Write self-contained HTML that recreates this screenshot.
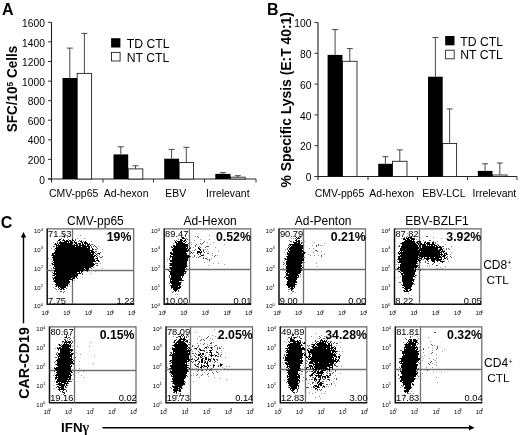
<!DOCTYPE html>
<html><head><meta charset="utf-8"><title>Figure</title>
<style>html,body{margin:0;padding:0;background:#fff}svg{display:block;filter:blur(0.45px)}text{font-family:"Liberation Sans",Arial,sans-serif;fill:#000}</style>
</head><body>
<svg width="520" height="435" viewBox="0 0 520 435">
<rect width="520" height="435" fill="#fff"/>
<path d="M51.5 22.3V182.5M48.0 179H256" stroke="#222" stroke-width="1.1" fill="none"/>
<path d="M48.0 179.0H51.5M48.0 159.4H51.5M48.0 139.8H51.5M48.0 120.2H51.5M48.0 100.7H51.5M48.0 81.1H51.5M48.0 61.5H51.5M48.0 41.9H51.5M48.0 22.3H51.5M103 179V182.5M153.5 179V182.5M204.5 179V182.5M256 179V182.5" stroke="#333" stroke-width="1" fill="none"/>
<text x="44.9" y="183.6" font-size="11.7" text-anchor="end" textLength="5.7" lengthAdjust="spacingAndGlyphs">0</text>
<text x="44.9" y="164.0" font-size="11.7" text-anchor="end" textLength="17.1" lengthAdjust="spacingAndGlyphs">200</text>
<text x="44.9" y="144.4" font-size="11.7" text-anchor="end" textLength="17.1" lengthAdjust="spacingAndGlyphs">400</text>
<text x="44.9" y="124.8" font-size="11.7" text-anchor="end" textLength="17.1" lengthAdjust="spacingAndGlyphs">600</text>
<text x="44.9" y="105.2" font-size="11.7" text-anchor="end" textLength="17.1" lengthAdjust="spacingAndGlyphs">800</text>
<text x="44.9" y="85.7" font-size="11.7" text-anchor="end" textLength="22.8" lengthAdjust="spacingAndGlyphs">1000</text>
<text x="44.9" y="66.1" font-size="11.7" text-anchor="end" textLength="22.8" lengthAdjust="spacingAndGlyphs">1200</text>
<text x="44.9" y="46.5" font-size="11.7" text-anchor="end" textLength="22.8" lengthAdjust="spacingAndGlyphs">1400</text>
<text x="44.9" y="26.9" font-size="11.7" text-anchor="end" textLength="22.8" lengthAdjust="spacingAndGlyphs">1600</text>
<rect x="77.2" y="73.4" width="14.4" height="105.6" fill="#fff" stroke="#222" stroke-width="0.9"/>
<rect x="62.5" y="78" width="14.7" height="101.0" fill="#000"/>
<path d="M69.8 78V48.1M66.8 48.1h6M84.4 73.4V33.4M81.4 33.4h6" stroke="#333" stroke-width="0.9" fill="none"/>
<rect x="128.2" y="168.9" width="14.6" height="10.1" fill="#fff" stroke="#222" stroke-width="0.9"/>
<rect x="113.5" y="154.4" width="14.7" height="24.6" fill="#000"/>
<path d="M120.8 154.4V146.8M117.8 146.8h6M135.5 168.9V165.8M132.5 165.8h6" stroke="#333" stroke-width="0.9" fill="none"/>
<rect x="179.1" y="162.5" width="14.4" height="16.5" fill="#fff" stroke="#222" stroke-width="0.9"/>
<rect x="164.2" y="158.7" width="14.9" height="20.3" fill="#000"/>
<path d="M171.6 158.7V149.4M168.6 149.4h6M186.3 162.5V147.3M183.3 147.3h6" stroke="#333" stroke-width="0.9" fill="none"/>
<rect x="230.5" y="177.2" width="14.7" height="1.8" fill="#fff" stroke="#222" stroke-width="0.9"/>
<rect x="215.3" y="173.9" width="15.2" height="5.1" fill="#000"/>
<path d="M222.9 173.9V172.7M219.9 172.7h6M237.8 177.2V175.7M234.8 175.7h6" stroke="#333" stroke-width="0.9" fill="none"/>
<text x="73.6" y="197" font-size="10.45" text-anchor="middle">CMV-pp65</text>
<text x="126.1" y="197" font-size="10.45" text-anchor="middle">Ad-hexon</text>
<text x="175.8" y="197" font-size="10.45" text-anchor="middle">EBV</text>
<text x="227.8" y="197" font-size="10.45" text-anchor="middle">Irrelevant</text>
<path d="M318 22.5V180.0M314.5 176.5H517" stroke="#222" stroke-width="1.1" fill="none"/>
<path d="M314.5 176.5H318M314.5 145.7H318M314.5 114.9H318M314.5 84.1H318M314.5 53.3H318M314.5 22.5H318M368 176.5V180.0M417.5 176.5V180.0M467.5 176.5V180.0M517 176.5V180.0" stroke="#333" stroke-width="1" fill="none"/>
<text x="311.4" y="181.1" font-size="11.7" text-anchor="end" textLength="5.7" lengthAdjust="spacingAndGlyphs">0</text>
<text x="311.4" y="150.3" font-size="11.7" text-anchor="end" textLength="11.4" lengthAdjust="spacingAndGlyphs">20</text>
<text x="311.4" y="119.5" font-size="11.7" text-anchor="end" textLength="11.4" lengthAdjust="spacingAndGlyphs">40</text>
<text x="311.4" y="88.7" font-size="11.7" text-anchor="end" textLength="11.4" lengthAdjust="spacingAndGlyphs">60</text>
<text x="311.4" y="57.9" font-size="11.7" text-anchor="end" textLength="11.4" lengthAdjust="spacingAndGlyphs">80</text>
<text x="311.4" y="27.1" font-size="11.7" text-anchor="end" textLength="17.1" lengthAdjust="spacingAndGlyphs">100</text>
<rect x="342.5" y="61.3" width="14.5" height="115.2" fill="#fff" stroke="#222" stroke-width="0.9"/>
<rect x="327.6" y="54.9" width="14.9" height="121.6" fill="#000"/>
<path d="M335.1 54.9V29.6M332.1 29.6h6M349.8 61.3V48.6M346.8 48.6h6" stroke="#333" stroke-width="0.9" fill="none"/>
<rect x="392.5" y="161.3" width="14.5" height="15.2" fill="#fff" stroke="#222" stroke-width="0.9"/>
<rect x="378.2" y="163.8" width="14.3" height="12.7" fill="#000"/>
<path d="M385.4 163.8V156.7M382.4 156.7h6M399.8 161.3V149.9M396.8 149.9h6" stroke="#333" stroke-width="0.9" fill="none"/>
<rect x="442.7" y="143.5" width="13.9" height="33.0" fill="#fff" stroke="#222" stroke-width="0.9"/>
<rect x="428" y="76.7" width="14.7" height="99.8" fill="#000"/>
<path d="M435.4 76.7V37.5M432.4 37.5h6M449.6 143.5V108.9M446.6 108.9h6" stroke="#333" stroke-width="0.9" fill="none"/>
<rect x="492.5" y="175" width="14.5" height="1.5" fill="#fff" stroke="#222" stroke-width="0.9"/>
<rect x="477.8" y="170.9" width="14.7" height="5.6" fill="#000"/>
<path d="M485.1 170.9V163.8M482.1 163.8h6M499.8 175V163M496.8 163h6" stroke="#333" stroke-width="0.9" fill="none"/>
<text x="339.5" y="196.5" font-size="10.5" text-anchor="middle">CMV-pp65</text>
<text x="391.7" y="196.5" font-size="10.5" text-anchor="middle">Ad-hexon</text>
<text x="443.9" y="196.5" font-size="10.5" text-anchor="middle">EBV-LCL</text>
<text x="494.4" y="196.5" font-size="10.5" text-anchor="middle">Irrelevant</text>
<rect x="111.1" y="38.2" width="9.3" height="9.3" fill="#000"/>
<rect x="111.5" y="52.400000000000006" width="8.6" height="8.6" fill="#fff" stroke="#222" stroke-width="0.9"/>
<text x="126.8" y="47.7" font-size="12.2">TD CTL</text>
<text x="126.8" y="61.5" font-size="12.2">NT CTL</text>
<rect x="445.2" y="36" width="9.3" height="9.3" fill="#000"/>
<rect x="445.59999999999997" y="50.2" width="8.6" height="8.6" fill="#fff" stroke="#222" stroke-width="0.9"/>
<text x="460.3" y="45.5" font-size="12.2">TD CTL</text>
<text x="460.3" y="59.3" font-size="12.2">NT CTL</text>
<text x="2" y="14.5" font-size="16" font-weight="bold">A</text>
<text x="267" y="14.5" font-size="16" font-weight="bold">B</text>
<text x="0.8" y="228" font-size="16" font-weight="bold">C</text>
<text transform="translate(17.1 89) rotate(-90) scale(0.936 1)" font-size="14.4" font-weight="bold" text-anchor="middle">SFC/10<tspan font-size="9" dy="-4.5">5</tspan><tspan dy="4.5"> Cells</tspan></text>
<text transform="translate(291.3 99.8) rotate(-90)" font-size="13.9" font-weight="bold" text-anchor="middle">% Specific Lysis (E:T 40:1)</text>
<text transform="translate(28.8 363) rotate(-90)" font-size="14.2" font-weight="bold" text-anchor="middle">CAR-CD19</text>
<text x="61" y="431.5" font-size="13.4" font-weight="bold">IFN<tspan font-family="Liberation Serif, serif" font-size="14">γ</tspan></text>
<path d="M23.5 323.3V236" stroke="#000" stroke-width="1.4" fill="none"/><path d="M23.5 232l-2.7 5.5h5.4z" fill="#000"/>
<path d="M102.5 427.8H470" stroke="#000" stroke-width="1.4" fill="none"/><path d="M474.5 427.8l-5.5-2.8v5.6z" fill="#000"/>
<g transform="translate(47.2 228.9)">
<path d="M0 0H86.5V75.3" fill="none" stroke="#666" stroke-width="1.2"/>
<path d="M0 -0.5V75.3H87.0" fill="none" stroke="#111" stroke-width="1.5"/>
<path d="M25.3 0V75.3M0 41.6H86.5" stroke="#707070" stroke-width="1.3" fill="none"/>
<g transform="translate(-0.20 0.60)" fill="none" stroke-width="1" shape-rendering="crispEdges">
<path d="M33 6h1M20 8h1M30 9h1M37 9h1M44 12h1M6 13h1M51 17h1M4 19h1M55 20h1M1 29h1M4 30h1M53 34h1M3 36h1M4 39h1M55 39h1M5 41h1M43 41h1M45 41h1M48 42h1M43 44h1M27 51h1M5 55h1M23 57h1M6 58h1M10 62h1" stroke="#999"/>
<path d="M16 5h1M17 6h1M17 7h1M17 8h1M14 9h1M25 9h1M21 10h1M28 10h1M15 11h1M28 11h1M32 11h1M34 11h1M10 12h1M31 12h1M36 12h1M10 13h1M42 14h1M7 15h1M44 15h2M47 16h1M6 17h2M44 17h1M46 17h1M48 17h1M44 18h1M49 18h1M50 19h1M7 20h1M48 20h2M48 22h2M53 23h1M48 24h1M50 24h1M52 25h1M4 26h1M50 26h1M52 27h1M55 27h1M53 28h2M48 29h1M5 32h1M52 32h1M4 34h1M48 34h3M49 36h2M46 38h1M6 39h1M44 39h1M40 42h1M5 43h1M35 44h1M35 45h1M5 46h1M5 48h1M30 49h1M6 52h1M25 52h1M25 53h1M22 55h1M8 57h1M20 57h1M8 59h1M19 59h1M9 60h1M11 60h1M17 60h1M13 62h2M17 62h1M16 63h1" stroke="#555"/>
<path d="M12 10h2M16 10h1M25 10h1M11 11h2M16 11h2M19 11h2M22 11h2M25 11h2M13 12h1M17 12h5M23 12h2M27 12h1M33 12h2M38 12h1M12 13h8M21 13h1M23 13h3M27 13h3M34 13h2M37 13h3M8 14h1M10 14h1M12 14h14M28 14h2M31 14h3M35 14h1M37 14h4M8 15h2M11 15h1M13 15h12M27 15h1M29 15h2M32 15h2M35 15h2M38 15h1M40 15h3M9 16h22M32 16h7M40 16h2M43 16h1M9 17h1M11 17h17M29 17h5M35 17h8M9 18h31M41 18h2M8 19h35M45 19h1M9 20h34M45 20h2M8 21h38M8 22h35M44 22h3M7 23h41M5 24h39M45 24h2M51 24h2M5 25h2M8 25h39M49 25h1M5 26h41M47 26h2M6 27h42M49 27h1M5 28h42M50 28h1M6 29h41M49 29h2M6 30h42M50 30h1M6 31h42M49 31h3M7 32h42M51 32h1M6 33h40M5 34h1M7 34h40M5 35h43M7 36h40M7 37h39M6 38h1M8 38h36M7 39h30M38 39h4M8 40h30M39 40h3M7 41h30M38 41h3M7 42h26M34 42h2M7 43h1M9 43h21M32 43h1M34 43h1M6 44h28M7 45h24M6 46h2M9 46h22M8 47h22M7 48h18M26 48h2M29 48h1M6 49h18M25 49h3M6 50h1M8 50h18M7 51h15M25 51h1M7 52h16M8 53h15M9 54h13M8 55h13M9 56h12M9 57h1M11 57h8M11 58h1M13 58h6M12 59h1M14 59h3M13 60h2M16 60h1" stroke="#000"/>
</g>
<text x="-5.6" y="86.3" font-size="6" fill="#333">10<tspan font-size="4.2" dx="-1.6" dy="-2.6">0</tspan></text>
<text x="-13.2" y="79.5" font-size="6" fill="#333">10<tspan font-size="4.2" dy="-2.6">0</tspan></text>
<text x="16.0" y="86.3" font-size="6" fill="#333">10<tspan font-size="4.2" dx="-1.6" dy="-2.6">1</tspan></text>
<text x="-13.2" y="60.7" font-size="6" fill="#333">10<tspan font-size="4.2" dy="-2.6">1</tspan></text>
<text x="37.6" y="86.3" font-size="6" fill="#333">10<tspan font-size="4.2" dx="-1.6" dy="-2.6">2</tspan></text>
<text x="-13.2" y="41.9" font-size="6" fill="#333">10<tspan font-size="4.2" dy="-2.6">2</tspan></text>
<text x="59.3" y="86.3" font-size="6" fill="#333">10<tspan font-size="4.2" dx="-1.6" dy="-2.6">3</tspan></text>
<text x="-13.2" y="23.0" font-size="6" fill="#333">10<tspan font-size="4.2" dy="-2.6">3</tspan></text>
<text x="80.9" y="86.3" font-size="6" fill="#333">10<tspan font-size="4.2" dx="-1.6" dy="-2.6">4</tspan></text>
<text x="-13.2" y="4.2" font-size="6" fill="#333">10<tspan font-size="4.2" dy="-2.6">4</tspan></text>
<text x="0.9" y="7.8" font-size="9.3" fill="#111">71.53</text>
<text x="0.7" y="74.8" font-size="9.3" fill="#111">7.75</text>
<text x="87.3" y="74.8" font-size="9.3" text-anchor="end" fill="#111">1.22</text>
<text x="84.2" y="12" font-size="12.3" font-weight="bold" text-anchor="end">19%</text>
<text x="48.2" y="-3.8" font-size="12" text-anchor="middle">CMV-pp65</text>
</g>
<g transform="translate(164.2 228.9)">
<path d="M0 0H86.5V75.3" fill="none" stroke="#666" stroke-width="1.2"/>
<path d="M0 -0.5V75.3H87.0" fill="none" stroke="#111" stroke-width="1.5"/>
<path d="M25.3 0V75.3M0 40.6H86.5" stroke="#707070" stroke-width="1.3" fill="none"/>
<g transform="translate(-0.20 0.60)" fill="none" stroke-width="1" shape-rendering="crispEdges">
<path d="M17 2h1M21 6h1M45 6h1M31 7h1M14 10h1M36 10h1M45 10h1M30 11h1M27 13h1M43 13h1M49 13h1M9 14h1M27 15h1M46 15h1M60 15h1M29 18h1M51 18h1M41 20h1M43 20h1M28 21h1M42 22h1M44 22h1M54 22h1M48 24h1M48 26h1M53 26h1M28 28h1M32 28h1M47 29h1M3 30h1M3 32h1M40 33h1M49 34h1M54 34h1M25 35h1M60 35h1M44 36h1M18 56h1M11 65h1M13 65h1M12 68h1" stroke="#999"/>
<path d="M17 5h1M17 6h1M33 7h1M17 8h1M34 8h1M22 9h1M23 10h1M10 11h1M12 11h1M22 12h1M40 12h1M39 13h1M24 14h1M36 14h1M38 14h1M32 15h1M37 15h1M31 16h1M7 17h1M31 17h1M35 17h1M42 17h3M7 18h1M26 18h1M36 18h1M41 18h1M26 19h1M31 20h1M39 20h1M30 21h1M39 21h1M26 22h1M39 22h1M29 23h1M40 23h1M25 24h2M28 24h1M43 24h2M34 25h1M36 25h1M39 25h1M30 26h1M39 26h1M51 26h1M26 27h1M30 27h1M35 27h2M50 27h1M34 28h1M39 28h1M5 29h1M39 29h1M41 29h2M5 30h1M43 30h1M45 30h1M45 31h1M5 34h1M5 36h1M23 37h1M5 38h1M22 39h1M22 40h1M4 41h1M22 42h1M21 44h1M5 46h1M5 47h1M5 48h1M18 48h1M19 51h1M17 53h1M5 54h1M6 56h1M7 59h1M14 61h1M9 62h1M14 62h1M8 63h1" stroke="#555"/>
<path d="M18 8h2M18 9h3M16 10h2M21 10h1M16 11h3M20 11h2M11 12h1M13 12h5M19 12h2M11 13h2M14 13h5M21 13h1M12 14h9M12 15h12M9 16h2M12 16h12M9 17h15M8 18h1M10 18h12M23 18h1M34 18h1M9 19h15M25 19h1M34 19h2M8 20h15M24 20h1M35 20h2M8 21h17M36 21h1M9 22h15M33 22h3M37 22h1M6 23h2M9 23h13M27 23h1M33 23h5M6 24h17M33 24h1M36 24h1M7 25h16M6 26h1M9 26h16M37 26h2M6 27h20M6 28h1M8 28h17M8 29h16M8 30h16M6 31h18M6 32h17M8 33h15M6 34h17M6 35h17M6 36h17M8 37h15M6 38h16M6 39h15M7 40h14M7 41h14M5 42h17M6 43h14M21 43h1M6 44h15M6 45h14M7 46h13M7 47h10M18 47h1M7 48h10M6 49h12M6 50h12M6 51h1M8 51h11M6 52h9M6 53h11M7 54h10M8 55h9M7 56h9M7 57h7M15 57h2M7 58h10M9 59h7M9 60h5M10 61h3M11 62h1" stroke="#000"/>
</g>
<text x="-5.6" y="86.3" font-size="6" fill="#333">10<tspan font-size="4.2" dx="-1.6" dy="-2.6">0</tspan></text>
<text x="-13.2" y="79.5" font-size="6" fill="#333">10<tspan font-size="4.2" dy="-2.6">0</tspan></text>
<text x="16.0" y="86.3" font-size="6" fill="#333">10<tspan font-size="4.2" dx="-1.6" dy="-2.6">1</tspan></text>
<text x="-13.2" y="60.7" font-size="6" fill="#333">10<tspan font-size="4.2" dy="-2.6">1</tspan></text>
<text x="37.6" y="86.3" font-size="6" fill="#333">10<tspan font-size="4.2" dx="-1.6" dy="-2.6">2</tspan></text>
<text x="-13.2" y="41.9" font-size="6" fill="#333">10<tspan font-size="4.2" dy="-2.6">2</tspan></text>
<text x="59.3" y="86.3" font-size="6" fill="#333">10<tspan font-size="4.2" dx="-1.6" dy="-2.6">3</tspan></text>
<text x="-13.2" y="23.0" font-size="6" fill="#333">10<tspan font-size="4.2" dy="-2.6">3</tspan></text>
<text x="80.9" y="86.3" font-size="6" fill="#333">10<tspan font-size="4.2" dx="-1.6" dy="-2.6">4</tspan></text>
<text x="-13.2" y="4.2" font-size="6" fill="#333">10<tspan font-size="4.2" dy="-2.6">4</tspan></text>
<text x="0.9" y="7.8" font-size="9.3" fill="#111">89.47</text>
<text x="0.7" y="74.8" font-size="9.3" fill="#111">10.00</text>
<text x="87.3" y="74.8" font-size="9.3" text-anchor="end" fill="#111">0.01</text>
<text x="86.7" y="12" font-size="12.3" font-weight="bold" text-anchor="end">0.52%</text>
<text x="45.9" y="-3.8" font-size="12" text-anchor="middle">Ad-Hexon</text>
</g>
<g transform="translate(279 228.9)">
<path d="M0 0H86.5V75.3" fill="none" stroke="#666" stroke-width="1.2"/>
<path d="M0 -0.5V75.3H87.0" fill="none" stroke="#111" stroke-width="1.5"/>
<path d="M24.5 0V75.3M0 40.6H86.5" stroke="#707070" stroke-width="1.3" fill="none"/>
<g transform="translate(0.00 0.60)" fill="none" stroke-width="1" shape-rendering="crispEdges">
<path d="M21 5h1M14 7h1M12 9h1M14 9h1M23 9h1M22 11h1M25 12h1M35 13h1M45 14h1M33 16h1M41 16h1M43 16h1M30 19h1M34 19h1M6 20h1M42 22h1M5 23h1M34 23h1M6 25h1M29 25h1M45 25h1M31 26h1M35 26h1M39 26h1M25 33h1M37 34h1M4 37h1M38 37h1M4 39h1M5 41h1M21 47h1M9 62h1M16 63h1M12 64h1" stroke="#999"/>
<path d="M16 7h1M21 7h1M21 8h1M16 9h1M10 11h1M11 12h2M14 12h1M22 13h2M39 15h1M9 16h1M24 16h1M37 16h1M39 16h1M37 17h1M8 19h1M24 19h1M8 20h1M36 21h2M38 22h1M26 23h1M42 26h1M7 27h1M42 27h1M25 28h1M5 29h1M5 31h1M4 33h1M5 34h1M4 35h1M6 36h1M24 38h1M23 40h1M6 43h1M21 45h1M5 48h1M19 48h1M17 55h1M9 60h2M13 62h2" stroke="#555"/>
<path d="M17 8h1M19 8h1M18 9h3M17 10h1M16 11h2M19 11h2M17 12h4M14 13h4M19 13h2M15 14h6M22 14h1M10 15h12M11 16h1M13 16h11M10 17h1M12 17h12M9 18h1M11 18h13M10 19h14M10 20h13M9 21h1M11 21h13M9 22h16M8 23h1M10 23h13M24 23h2M8 24h18M8 25h17M9 26h16M8 27h17M8 28h16M6 29h1M8 29h17M6 30h19M8 31h17M7 32h16M7 33h17M7 34h16M7 35h15M8 36h15M7 37h16M7 38h15M23 38h1M7 39h16M8 40h14M7 41h16M7 42h15M8 43h14M7 44h2M10 44h11M7 45h12M7 46h13M6 47h1M9 47h9M19 47h1M7 48h12M7 49h11M8 50h10M9 51h8M8 52h10M8 53h10M8 54h8M7 55h10M8 56h8M9 57h7M9 58h2M12 58h2M15 58h1M11 59h4M12 60h2M12 61h1" stroke="#000"/>
</g>
<text x="-5.6" y="86.3" font-size="6" fill="#333">10<tspan font-size="4.2" dx="-1.6" dy="-2.6">0</tspan></text>
<text x="-13.2" y="79.5" font-size="6" fill="#333">10<tspan font-size="4.2" dy="-2.6">0</tspan></text>
<text x="16.0" y="86.3" font-size="6" fill="#333">10<tspan font-size="4.2" dx="-1.6" dy="-2.6">1</tspan></text>
<text x="-13.2" y="60.7" font-size="6" fill="#333">10<tspan font-size="4.2" dy="-2.6">1</tspan></text>
<text x="37.6" y="86.3" font-size="6" fill="#333">10<tspan font-size="4.2" dx="-1.6" dy="-2.6">2</tspan></text>
<text x="-13.2" y="41.9" font-size="6" fill="#333">10<tspan font-size="4.2" dy="-2.6">2</tspan></text>
<text x="59.3" y="86.3" font-size="6" fill="#333">10<tspan font-size="4.2" dx="-1.6" dy="-2.6">3</tspan></text>
<text x="-13.2" y="23.0" font-size="6" fill="#333">10<tspan font-size="4.2" dy="-2.6">3</tspan></text>
<text x="80.9" y="86.3" font-size="6" fill="#333">10<tspan font-size="4.2" dx="-1.6" dy="-2.6">4</tspan></text>
<text x="-13.2" y="4.2" font-size="6" fill="#333">10<tspan font-size="4.2" dy="-2.6">4</tspan></text>
<text x="0.9" y="7.8" font-size="9.3" fill="#111">90.79</text>
<text x="0.7" y="74.8" font-size="9.3" fill="#111">9.00</text>
<text x="87.3" y="74.8" font-size="9.3" text-anchor="end" fill="#111">0.00</text>
<text x="86.7" y="12" font-size="12.3" font-weight="bold" text-anchor="end">0.21%</text>
<text x="44.2" y="-3.8" font-size="12" text-anchor="middle">Ad-Penton</text>
</g>
<g transform="translate(394.5 228.9)">
<path d="M0 0H86.5V75.3" fill="none" stroke="#666" stroke-width="1.2"/>
<path d="M0 -0.5V75.3H87.0" fill="none" stroke="#111" stroke-width="1.5"/>
<path d="M25.0 0V75.3M0 40.6H86.5" stroke="#707070" stroke-width="1.3" fill="none"/>
<g transform="translate(-0.50 0.60)" fill="none" stroke-width="1" shape-rendering="crispEdges">
<path d="M13 4h1M17 4h1M19 7h1M39 8h1M7 9h1M47 9h1M22 10h1M29 11h1M43 12h1M51 15h1M57 17h1M57 23h1M56 25h1M54 32h1M45 34h1M2 35h1M4 35h1M35 36h1M33 37h1M51 37h1M46 38h1M43 39h1M48 39h1M33 40h1M6 47h1M4 48h1M14 64h1M17 66h1" stroke="#999"/>
<path d="M17 7h1M32 7h2M10 8h1M12 8h1M35 11h2M31 12h1M39 12h1M41 13h1M6 14h1M41 14h1M43 15h1M5 16h1M4 17h2M48 17h2M49 19h1M52 19h1M54 19h1M52 20h1M55 20h1M50 21h1M52 23h1M53 25h1M53 27h1M56 27h1M57 28h1M53 29h1M3 30h1M29 30h1M49 30h1M53 30h1M3 32h1M31 32h1M34 32h1M50 32h1M26 33h1M31 33h1M23 34h1M33 34h2M39 34h1M38 35h1M24 36h1M42 36h2M4 37h1M24 38h1M4 40h1M23 40h2M26 40h1M26 41h1M4 42h1M25 42h1M22 46h1M21 48h1M20 50h1M5 53h2M7 55h1M20 55h1M8 58h1M9 61h1" stroke="#555"/>
<path d="M14 8h4M9 9h2M12 9h3M16 9h5M9 10h3M13 10h3M17 10h4M11 11h7M19 11h1M10 12h11M23 12h4M8 13h13M22 13h2M25 13h2M30 13h2M33 13h3M38 13h2M7 14h15M23 14h2M26 14h2M30 14h1M32 14h4M38 14h2M8 15h15M24 15h1M26 15h6M33 15h8M8 16h16M25 16h2M28 16h4M33 16h1M35 16h1M37 16h2M40 16h3M44 16h1M7 17h17M25 17h2M28 17h13M42 17h2M45 17h2M7 18h18M26 18h1M28 18h20M6 19h19M26 19h18M46 19h2M6 20h18M25 20h19M45 20h4M6 21h41M48 21h1M5 22h1M7 22h1M9 22h17M27 22h19M47 22h4M4 23h1M6 23h42M49 23h1M4 24h21M26 24h20M47 24h1M50 24h3M5 25h1M7 25h42M50 25h1M52 25h1M6 26h40M47 26h1M49 26h3M4 27h20M25 27h22M48 27h3M4 28h2M7 28h18M27 28h2M30 28h1M33 28h2M36 28h4M41 28h7M50 28h1M52 28h1M4 29h20M25 29h3M30 29h15M47 29h1M50 29h2M4 30h21M27 30h1M32 30h3M37 30h11M5 31h18M24 31h3M33 31h1M37 31h4M42 31h5M5 32h19M25 32h1M38 32h3M43 32h1M46 32h4M4 33h19M40 33h1M48 33h1M7 34h16M6 35h16M6 36h18M6 37h18M4 38h19M3 39h2M6 39h14M21 39h1M6 40h14M21 40h1M6 41h16M5 42h1M7 42h15M6 43h1M9 43h12M7 44h14M7 45h2M10 45h11M8 46h12M21 46h1M8 47h13M8 48h11M8 49h11M8 50h12M8 51h12M8 52h10M19 52h1M9 53h10M9 54h11M9 55h10M8 56h10M10 57h8M9 58h1M11 58h6M10 59h7M11 60h3M16 60h2M10 61h1M12 61h2M15 61h2M10 62h5" stroke="#000"/>
</g>
<text x="-5.6" y="86.3" font-size="6" fill="#333">10<tspan font-size="4.2" dx="-1.6" dy="-2.6">0</tspan></text>
<text x="-13.2" y="79.5" font-size="6" fill="#333">10<tspan font-size="4.2" dy="-2.6">0</tspan></text>
<text x="16.0" y="86.3" font-size="6" fill="#333">10<tspan font-size="4.2" dx="-1.6" dy="-2.6">1</tspan></text>
<text x="-13.2" y="60.7" font-size="6" fill="#333">10<tspan font-size="4.2" dy="-2.6">1</tspan></text>
<text x="37.6" y="86.3" font-size="6" fill="#333">10<tspan font-size="4.2" dx="-1.6" dy="-2.6">2</tspan></text>
<text x="-13.2" y="41.9" font-size="6" fill="#333">10<tspan font-size="4.2" dy="-2.6">2</tspan></text>
<text x="59.3" y="86.3" font-size="6" fill="#333">10<tspan font-size="4.2" dx="-1.6" dy="-2.6">3</tspan></text>
<text x="-13.2" y="23.0" font-size="6" fill="#333">10<tspan font-size="4.2" dy="-2.6">3</tspan></text>
<text x="80.9" y="86.3" font-size="6" fill="#333">10<tspan font-size="4.2" dx="-1.6" dy="-2.6">4</tspan></text>
<text x="-13.2" y="4.2" font-size="6" fill="#333">10<tspan font-size="4.2" dy="-2.6">4</tspan></text>
<text x="0.9" y="7.8" font-size="9.3" fill="#111">87.82</text>
<text x="0.7" y="74.8" font-size="9.3" fill="#111">8.22</text>
<text x="87.3" y="74.8" font-size="9.3" text-anchor="end" fill="#111">0.05</text>
<text x="86.7" y="12" font-size="12.3" font-weight="bold" text-anchor="end">3.92%</text>
<text x="42.5" y="-3.8" font-size="12" text-anchor="middle">EBV-BZLF1</text>
</g>
<g transform="translate(49.5 326.9)">
<path d="M0 0H86.5V75.8" fill="none" stroke="#666" stroke-width="1.2"/>
<path d="M0 -0.5V75.8H87.0" fill="none" stroke="#111" stroke-width="1.5"/>
<path d="M25.0 0V75.8M0 43.6H86.5" stroke="#707070" stroke-width="1.3" fill="none"/>
<g transform="translate(0.50 0.60)" fill="none" stroke-width="1" shape-rendering="crispEdges">
<path d="M21 2h1M12 4h1M14 7h1M18 8h1M20 8h1M23 10h1M40 15h1M24 17h1M22 19h1M27 19h1M39 19h1M24 20h1M5 21h1M26 25h1M30 27h1M44 29h1M29 34h1M43 36h1M29 41h1M22 42h1M33 44h1M28 45h1M4 46h1M23 47h1M3 48h1M31 48h1M33 50h1M22 52h1M4 54h1M3 58h1M4 61h1M11 67h1M15 71h1" stroke="#999"/>
<path d="M16 8h1M14 10h1M18 10h2M17 11h1M20 11h1M14 12h2M19 12h1M17 13h1M21 13h1M12 14h1M22 14h1M12 15h1M22 15h1M8 17h1M11 17h1M7 20h1M8 23h1M7 25h1M6 26h1M23 26h1M6 27h1M5 30h2M24 30h2M5 34h1M24 34h1M4 35h1M5 37h1M23 37h1M4 40h1M4 43h1M4 44h1M22 45h1M5 52h1M20 54h2M18 56h1M6 57h1M17 58h1M6 60h1M15 60h2M15 62h1M16 63h1M10 64h1M16 64h1M12 65h1M14 65h1M13 67h1M14 68h1" stroke="#555"/>
<path d="M16 9h1M15 10h2M15 13h1M13 14h1M15 14h2M18 14h3M14 15h7M14 16h1M16 16h1M19 16h1M21 16h1M9 17h1M13 17h6M20 17h1M9 18h2M12 18h9M11 19h10M9 20h2M12 20h7M20 20h1M7 21h13M8 22h1M10 22h13M10 23h13M10 24h10M21 24h1M10 25h11M8 26h12M21 26h2M8 27h15M7 28h1M9 28h13M8 29h14M8 30h1M10 30h10M21 30h1M8 31h14M7 32h16M6 33h16M23 33h1M7 34h16M7 35h16M7 36h17M6 37h15M7 38h13M21 38h1M8 39h14M6 40h15M4 41h17M5 42h16M6 43h15M7 44h15M6 45h14M21 45h1M7 46h14M6 47h15M5 48h14M20 48h2M6 49h1M8 49h13M5 50h16M5 51h2M8 51h10M19 51h2M7 52h14M7 53h10M18 53h1M6 54h14M6 55h2M9 55h1M11 55h5M17 55h1M8 56h4M14 56h4M7 57h8M16 57h1M9 58h6M16 58h1M7 59h2M11 59h3M15 59h1M8 60h6M9 61h1M11 61h3M8 62h7M9 63h1M13 63h1M12 64h1M13 65h1M14 66h1" stroke="#000"/>
</g>
<text x="-6.1" y="86.8" font-size="6" fill="#333">10<tspan font-size="4.2" dx="-1.6" dy="-2.6">0</tspan></text>
<text x="-13.2" y="80.0" font-size="6" fill="#333">10<tspan font-size="4.2" dy="-2.6">0</tspan></text>
<text x="15.5" y="86.8" font-size="6" fill="#333">10<tspan font-size="4.2" dx="-1.6" dy="-2.6">1</tspan></text>
<text x="-13.2" y="61.0" font-size="6" fill="#333">10<tspan font-size="4.2" dy="-2.6">1</tspan></text>
<text x="37.1" y="86.8" font-size="6" fill="#333">10<tspan font-size="4.2" dx="-1.6" dy="-2.6">2</tspan></text>
<text x="-13.2" y="42.1" font-size="6" fill="#333">10<tspan font-size="4.2" dy="-2.6">2</tspan></text>
<text x="58.8" y="86.8" font-size="6" fill="#333">10<tspan font-size="4.2" dx="-1.6" dy="-2.6">3</tspan></text>
<text x="-13.2" y="23.2" font-size="6" fill="#333">10<tspan font-size="4.2" dy="-2.6">3</tspan></text>
<text x="80.4" y="86.8" font-size="6" fill="#333">10<tspan font-size="4.2" dx="-1.6" dy="-2.6">4</tspan></text>
<text x="-13.2" y="4.2" font-size="6" fill="#333">10<tspan font-size="4.2" dy="-2.6">4</tspan></text>
<text x="0.9" y="7.8" font-size="9.3" fill="#111">80.67</text>
<text x="0.7" y="74.3" font-size="9.3" fill="#111">19.16</text>
<text x="87.3" y="74.3" font-size="9.3" text-anchor="end" fill="#111">0.02</text>
<text x="85.0" y="12" font-size="12.3" font-weight="bold" text-anchor="end">0.15%</text>
</g>
<g transform="translate(166 326.9)">
<path d="M0 0H86.5V75.8" fill="none" stroke="#666" stroke-width="1.2"/>
<path d="M0 -0.5V75.8H87.0" fill="none" stroke="#111" stroke-width="1.5"/>
<path d="M24.5 0V75.8M0 42.6H86.5" stroke="#707070" stroke-width="1.3" fill="none"/>
<g transform="translate(0.00 0.60)" fill="none" stroke-width="1" shape-rendering="crispEdges">
<path d="M48 2h1M29 5h1M11 7h1M46 8h1M56 8h1M7 9h1M33 9h1M49 9h1M31 11h1M44 11h1M51 11h1M23 12h1M46 12h1M43 13h1M47 15h1M31 16h1M34 16h1M41 17h1M43 18h1M45 18h1M28 19h1M55 19h1M4 21h1M57 21h1M40 23h1M55 23h1M26 24h1M55 25h1M25 29h1M42 29h1M59 30h1M46 34h1M51 35h1M22 36h1M44 38h1M60 39h1M63 39h1M1 40h1M56 40h1M26 41h1M30 41h1M58 41h1M38 42h1M54 42h1M56 42h1M38 45h1M27 46h1M25 48h1M27 48h1M42 49h1M33 50h1M48 50h1M54 51h1M60 52h1M27 54h1M12 66h1" stroke="#999"/>
<path d="M13 6h1M13 7h1M16 7h1M21 8h1M12 9h1M16 9h1M18 9h1M20 9h1M22 9h1M42 9h1M10 10h2M20 10h1M41 10h1M40 11h1M10 12h1M35 12h1M37 12h1M8 13h1M34 13h1M38 13h1M7 15h1M21 15h1M23 15h1M45 15h1M24 16h1M38 16h1M44 16h2M22 17h2M37 17h1M6 18h1M26 18h1M32 18h1M49 18h2M26 19h1M32 19h1M41 19h1M48 19h1M6 20h1M23 20h1M31 20h1M42 20h1M44 20h1M46 20h1M51 20h1M53 20h1M28 21h1M33 21h1M38 21h1M40 21h1M51 21h1M53 21h2M25 22h1M30 22h1M46 22h1M51 22h1M36 23h1M38 23h1M43 23h1M32 24h1M38 24h1M50 24h1M4 25h2M33 25h1M40 25h2M43 25h1M50 25h1M26 26h2M29 26h1M52 26h1M30 27h1M43 27h1M48 27h1M52 27h1M55 27h1M3 28h1M28 28h1M39 28h1M47 28h1M54 28h1M29 29h1M36 29h1M38 29h1M49 29h1M51 29h2M54 29h1M30 30h1M32 30h1M34 30h1M24 31h1M26 31h1M37 31h1M42 31h1M45 31h1M47 31h1M26 32h1M28 32h1M32 32h1M50 32h2M38 33h1M51 33h1M3 34h1M24 34h2M27 34h1M29 34h1M32 34h2M41 34h1M44 34h1M49 34h1M26 35h1M48 35h1M3 36h2M38 36h1M54 36h1M24 37h1M28 37h2M31 37h2M35 37h1M47 37h1M56 37h1M22 38h1M24 38h1M52 38h1M30 39h1M32 39h1M52 39h1M54 39h1M22 40h1M24 40h1M32 40h1M37 40h1M47 40h1M3 41h1M35 41h1M41 41h1M45 41h1M24 42h1M32 42h1M40 42h1M4 43h1M32 43h1M35 43h2M40 43h1M43 43h1M45 43h1M22 44h1M31 44h1M50 44h1M3 45h1M46 45h1M51 45h1M42 46h1M47 46h1M4 47h1M31 47h1M36 47h1M41 47h1M30 48h1M35 48h1M5 49h1M21 49h1M5 54h1M19 55h1M6 56h1M6 58h1M4 60h1M5 61h1M16 61h1M7 65h1M10 66h1M14 66h1M14 67h1M10 68h2M13 68h1M13 69h1" stroke="#555"/>
<path d="M15 8h1M17 8h1M13 9h2M14 10h1M18 10h1M14 11h2M17 11h2M13 12h7M9 13h1M12 13h3M17 13h2M20 13h2M8 14h1M11 14h7M19 14h3M8 15h1M10 15h9M9 16h2M12 16h8M8 17h13M7 18h15M8 19h14M9 20h12M22 20h1M39 20h2M45 20h1M6 21h16M23 21h1M29 21h2M45 21h1M6 22h15M22 22h1M33 22h2M7 23h18M34 23h2M37 23h1M44 23h2M7 24h17M44 24h1M7 25h1M9 25h13M23 25h1M44 25h2M51 25h1M5 26h1M7 26h17M34 26h1M36 26h2M45 26h1M4 27h1M6 27h18M32 27h3M36 27h2M45 27h1M4 28h19M32 28h2M35 28h1M44 28h3M49 28h2M6 29h17M34 29h1M45 29h1M6 30h17M35 30h1M39 30h2M6 31h17M32 31h1M36 31h1M39 31h2M6 32h18M25 32h1M31 32h1M35 32h2M39 32h2M42 32h3M47 32h2M4 33h17M22 33h2M29 33h2M35 33h2M42 33h1M44 33h1M48 33h1M4 34h1M6 34h17M35 34h2M39 34h1M43 34h1M5 35h16M33 35h1M35 35h2M38 35h2M41 35h1M6 36h13M20 36h1M32 36h1M40 36h2M6 37h15M41 37h1M54 37h2M4 38h18M29 38h1M35 38h1M37 38h2M41 38h2M47 38h2M54 38h2M4 39h17M31 39h1M35 39h2M38 39h3M42 39h1M47 39h1M5 40h17M34 40h2M41 40h1M4 41h17M23 41h1M6 42h16M44 42h1M6 43h16M4 44h18M4 45h17M5 46h16M6 47h14M5 48h1M7 48h14M6 49h14M7 50h13M6 51h13M6 52h12M7 53h11M6 54h13M7 55h11M7 56h12M8 57h11M9 58h8M6 59h10M7 60h5M13 60h3M8 61h6M15 61h1M7 62h5M13 62h2M7 63h8M8 64h3M13 64h2M8 65h1M10 65h1" stroke="#000"/>
</g>
<text x="-6.1" y="86.8" font-size="6" fill="#333">10<tspan font-size="4.2" dx="-1.6" dy="-2.6">0</tspan></text>
<text x="-13.2" y="80.0" font-size="6" fill="#333">10<tspan font-size="4.2" dy="-2.6">0</tspan></text>
<text x="15.5" y="86.8" font-size="6" fill="#333">10<tspan font-size="4.2" dx="-1.6" dy="-2.6">1</tspan></text>
<text x="-13.2" y="61.0" font-size="6" fill="#333">10<tspan font-size="4.2" dy="-2.6">1</tspan></text>
<text x="37.1" y="86.8" font-size="6" fill="#333">10<tspan font-size="4.2" dx="-1.6" dy="-2.6">2</tspan></text>
<text x="-13.2" y="42.1" font-size="6" fill="#333">10<tspan font-size="4.2" dy="-2.6">2</tspan></text>
<text x="58.8" y="86.8" font-size="6" fill="#333">10<tspan font-size="4.2" dx="-1.6" dy="-2.6">3</tspan></text>
<text x="-13.2" y="23.2" font-size="6" fill="#333">10<tspan font-size="4.2" dy="-2.6">3</tspan></text>
<text x="80.4" y="86.8" font-size="6" fill="#333">10<tspan font-size="4.2" dx="-1.6" dy="-2.6">4</tspan></text>
<text x="-13.2" y="4.2" font-size="6" fill="#333">10<tspan font-size="4.2" dy="-2.6">4</tspan></text>
<text x="0.9" y="7.8" font-size="9.3" fill="#111">78.09</text>
<text x="0.7" y="74.3" font-size="9.3" fill="#111">19.73</text>
<text x="87.3" y="74.3" font-size="9.3" text-anchor="end" fill="#111">0.14</text>
<text x="86.7" y="12" font-size="12.3" font-weight="bold" text-anchor="end">2.05%</text>
</g>
<g transform="translate(280.3 326.9)">
<path d="M0 0H86.5V75.8" fill="none" stroke="#666" stroke-width="1.2"/>
<path d="M0 -0.5V75.8H87.0" fill="none" stroke="#111" stroke-width="1.5"/>
<path d="M25.2 0V75.8M0 42.6H86.5" stroke="#707070" stroke-width="1.3" fill="none"/>
<g transform="translate(-0.30 0.60)" fill="none" stroke-width="1" shape-rendering="crispEdges">
<path d="M35 6h1M18 7h1M52 7h1M54 7h1M41 8h1M31 9h1M44 9h1M37 11h1M7 12h1M4 14h1M6 15h1M32 15h1M60 15h1M56 18h1M60 20h1M59 24h1M62 24h1M2 35h1M3 37h1M23 38h1M4 39h1M61 39h1M24 40h1M29 44h1M51 44h1M60 46h1M21 47h1M55 48h1M23 50h1M54 51h1M29 52h1M4 53h1M22 53h1M46 54h1M53 54h1M28 56h1M35 56h1M54 56h1M30 57h1M49 57h1M55 58h1M46 59h1M48 59h1M31 60h1M45 64h1M29 65h1M35 65h1M32 66h1M41 66h1M44 66h1M11 69h1M39 69h1M35 70h1M40 71h1" stroke="#999"/>
<path d="M12 6h1M13 8h1M11 9h1M17 9h1M19 9h1M39 9h1M8 10h2M13 10h1M16 10h1M19 10h1M40 10h1M20 11h2M39 11h1M43 11h2M47 12h1M20 13h1M35 13h1M8 14h1M35 14h1M37 14h2M48 14h1M50 14h2M22 15h1M54 15h1M25 16h1M51 16h1M53 16h1M56 16h2M31 17h1M22 18h1M27 18h1M29 18h1M28 19h1M31 19h1M54 19h1M5 21h1M28 21h2M24 23h1M5 24h1M57 24h1M24 25h1M56 26h1M4 27h1M59 27h1M4 28h1M60 28h1M3 30h1M3 31h1M25 31h1M28 32h1M4 33h1M26 33h1M27 34h1M59 34h1M25 35h1M22 36h1M25 36h2M55 36h1M28 37h1M54 38h1M56 39h2M6 40h1M26 40h1M28 40h1M20 41h1M6 42h1M25 42h2M29 42h1M31 42h1M52 42h2M6 43h1M20 43h1M55 43h1M21 44h2M25 44h1M27 44h1M31 44h1M47 44h1M49 44h1M55 44h1M26 45h1M46 45h1M53 45h1M19 46h1M47 46h1M49 46h2M52 46h1M34 47h1M43 47h1M29 48h1M50 48h1M32 50h2M49 50h1M26 51h1M42 51h1M56 51h1M26 52h1M31 52h2M38 52h1M43 52h2M47 52h1M49 52h1M56 52h1M49 53h1M35 54h1M42 54h2M6 55h1M19 55h1M32 55h2M32 56h1M43 56h1M51 56h1M46 57h2M51 57h1M8 58h1M43 58h1M8 60h1M18 60h1M26 60h3M33 60h1M39 60h1M42 60h1M44 60h1M18 61h1M35 62h1M37 62h1M39 62h1M41 62h1M17 63h1M37 63h1M40 63h1M17 64h1M14 65h1M16 65h1M14 66h1" stroke="#555"/>
<path d="M13 7h1M12 8h1M11 10h1M14 10h2M10 11h2M14 11h1M10 12h4M41 12h1M10 13h5M17 13h1M19 13h1M40 13h3M44 13h1M46 13h1M10 14h9M20 14h1M40 14h1M42 14h5M9 15h1M13 15h3M17 15h4M24 15h1M36 15h1M39 15h5M45 15h1M47 15h1M50 15h1M10 16h11M23 16h2M35 16h1M37 16h9M48 16h2M8 17h12M21 17h1M32 17h3M36 17h11M48 17h2M51 17h1M7 18h15M33 18h2M37 18h15M7 19h1M9 19h12M32 19h2M35 19h2M38 19h12M51 19h1M8 20h13M22 20h2M32 20h18M51 20h3M55 20h1M6 21h19M33 21h13M47 21h6M54 21h2M7 22h1M9 22h16M27 22h1M30 22h20M51 22h1M53 22h1M55 22h1M6 23h16M27 23h2M30 23h25M7 24h15M28 24h23M52 24h5M6 25h16M28 25h23M52 25h2M55 25h1M8 26h16M25 26h1M29 26h1M31 26h22M54 26h1M6 27h17M24 27h2M29 27h2M32 27h24M6 28h17M24 28h2M29 28h1M32 28h24M5 29h1M7 29h15M26 29h1M28 29h3M32 29h21M54 29h3M58 29h2M5 30h18M26 30h2M29 30h1M31 30h23M56 30h1M58 30h2M5 31h17M28 31h1M30 31h22M53 31h1M55 31h1M59 31h1M5 32h15M21 32h1M29 32h25M55 32h2M58 32h1M5 33h18M31 33h25M57 33h2M7 34h16M30 34h28M5 35h2M8 35h14M29 35h4M34 35h4M39 35h15M56 35h1M5 36h17M29 36h5M35 36h14M50 36h4M6 37h14M33 37h20M54 37h1M7 38h1M9 38h12M29 38h3M33 38h1M35 38h18M55 38h1M7 39h13M29 39h4M34 39h16M52 39h1M7 40h1M9 40h11M27 40h1M30 40h1M32 40h1M34 40h13M49 40h4M8 41h1M10 41h10M26 41h1M30 41h1M32 41h2M35 41h13M49 41h1M52 41h1M9 42h10M33 42h4M38 42h2M41 42h1M43 42h1M45 42h5M7 43h13M33 43h1M35 43h2M38 43h1M41 43h5M49 43h1M8 44h10M32 44h1M34 44h2M37 44h2M40 44h3M7 45h11M33 45h3M37 45h7M8 46h10M32 46h2M36 46h7M8 47h11M31 47h2M38 47h1M41 47h1M50 47h1M7 48h1M9 48h8M18 48h2M30 48h3M35 48h7M46 48h2M49 48h1M7 49h13M30 49h1M36 49h1M38 49h3M42 49h4M47 49h2M7 50h1M9 50h11M35 50h1M38 50h3M42 50h1M44 50h2M47 50h2M8 51h10M19 51h1M34 51h2M40 51h1M45 51h1M7 52h12M34 52h3M39 52h2M48 52h1M8 53h12M34 53h1M36 53h1M39 53h1M7 54h11M19 54h1M38 54h2M8 55h10M37 55h2M40 55h2M8 56h11M37 56h1M39 56h4M9 57h9M38 57h4M9 58h10M34 58h3M38 58h1M40 58h2M10 59h7M18 59h1M33 59h1M35 59h4M43 59h2M9 60h1M11 60h6M34 60h1M37 60h2M10 61h7M35 61h2M10 62h1M12 62h3M17 62h1M11 63h3M12 64h1M13 65h1" stroke="#000"/>
</g>
<text x="-6.1" y="86.8" font-size="6" fill="#333">10<tspan font-size="4.2" dx="-1.6" dy="-2.6">0</tspan></text>
<text x="-13.2" y="80.0" font-size="6" fill="#333">10<tspan font-size="4.2" dy="-2.6">0</tspan></text>
<text x="15.5" y="86.8" font-size="6" fill="#333">10<tspan font-size="4.2" dx="-1.6" dy="-2.6">1</tspan></text>
<text x="-13.2" y="61.0" font-size="6" fill="#333">10<tspan font-size="4.2" dy="-2.6">1</tspan></text>
<text x="37.1" y="86.8" font-size="6" fill="#333">10<tspan font-size="4.2" dx="-1.6" dy="-2.6">2</tspan></text>
<text x="-13.2" y="42.1" font-size="6" fill="#333">10<tspan font-size="4.2" dy="-2.6">2</tspan></text>
<text x="58.8" y="86.8" font-size="6" fill="#333">10<tspan font-size="4.2" dx="-1.6" dy="-2.6">3</tspan></text>
<text x="-13.2" y="23.2" font-size="6" fill="#333">10<tspan font-size="4.2" dy="-2.6">3</tspan></text>
<text x="80.4" y="86.8" font-size="6" fill="#333">10<tspan font-size="4.2" dx="-1.6" dy="-2.6">4</tspan></text>
<text x="-13.2" y="4.2" font-size="6" fill="#333">10<tspan font-size="4.2" dy="-2.6">4</tspan></text>
<text x="0.9" y="7.8" font-size="9.3" fill="#111">49.89</text>
<text x="0.7" y="74.3" font-size="9.3" fill="#111">12.83</text>
<text x="87.3" y="74.3" font-size="9.3" text-anchor="end" fill="#111">3.00</text>
<text x="86.7" y="12" font-size="12.3" font-weight="bold" text-anchor="end">34.28%</text>
</g>
<g transform="translate(395.3 326.9)">
<path d="M0 0H86.5V75.8" fill="none" stroke="#666" stroke-width="1.2"/>
<path d="M0 -0.5V75.8H87.0" fill="none" stroke="#111" stroke-width="1.5"/>
<path d="M25.2 0V75.8M0 42.6H86.5" stroke="#707070" stroke-width="1.3" fill="none"/>
<g transform="translate(-0.30 0.60)" fill="none" stroke-width="1" shape-rendering="crispEdges">
<path d="M16 4h1M20 4h1M19 8h1M17 9h1M22 9h1M33 10h1M23 11h1M35 14h1M8 15h1M25 18h1M39 18h1M24 20h1M33 20h1M37 21h1M49 22h1M37 23h1M47 24h1M28 25h1M41 27h1M29 28h1M27 29h1M28 31h1M34 31h1M41 31h1M38 32h1M27 33h1M40 33h1M41 35h1M37 36h1M39 37h1M41 38h1M31 40h1M37 40h1M36 42h1M3 44h1M38 45h1M46 45h1M27 46h1M41 50h1M22 51h1M25 55h1M42 55h1M5 60h1M16 64h1M15 66h1M18 66h1M9 67h1M9 70h1" stroke="#999"/>
<path d="M39 5h2M15 9h1M15 10h1M10 11h1M11 12h1M22 13h1M23 16h1M9 17h1M22 17h1M36 17h1M37 18h1M42 19h1M42 20h1M28 21h1M42 21h1M28 22h1M41 22h1M5 23h2M24 23h1M37 25h1M36 26h1M4 31h1M4 34h1M36 34h1M23 35h1M25 35h1M35 35h1M24 36h1M33 36h1M34 37h1M4 40h1M5 41h1M23 41h1M31 42h1M5 43h1M22 43h1M32 43h1M3 47h1M3 48h1M22 48h1M23 49h1M4 51h1M20 51h1M6 58h1M18 58h1M7 59h1M12 66h2" stroke="#555"/>
<path d="M14 12h3M18 12h3M13 13h1M15 13h2M18 13h4M13 14h4M18 14h4M12 15h1M14 15h5M20 15h3M11 16h1M13 16h8M10 17h11M10 18h6M17 18h4M10 19h10M21 19h1M9 20h14M9 21h1M11 21h10M22 21h1M9 22h11M21 22h2M9 23h13M7 24h17M7 25h16M7 26h17M8 27h1M10 27h14M8 28h15M7 29h16M7 30h16M5 31h20M6 32h19M6 33h18M5 34h18M4 35h1M6 35h1M8 35h14M5 36h16M7 37h16M6 38h17M6 39h16M6 40h16M7 41h15M7 42h14M22 42h1M7 43h14M5 44h17M6 45h15M22 45h1M6 46h17M7 47h15M7 48h14M5 49h16M5 50h14M6 51h14M6 52h14M5 53h14M5 54h2M8 54h11M7 55h10M8 56h8M17 56h1M8 57h8M17 57h2M8 58h1M10 58h6M10 59h6M9 60h8M9 61h7M11 62h4M9 63h5M9 64h5M10 65h1M12 65h1" stroke="#000"/>
</g>
<text x="-6.1" y="86.8" font-size="6" fill="#333">10<tspan font-size="4.2" dx="-1.6" dy="-2.6">0</tspan></text>
<text x="-13.2" y="80.0" font-size="6" fill="#333">10<tspan font-size="4.2" dy="-2.6">0</tspan></text>
<text x="15.5" y="86.8" font-size="6" fill="#333">10<tspan font-size="4.2" dx="-1.6" dy="-2.6">1</tspan></text>
<text x="-13.2" y="61.0" font-size="6" fill="#333">10<tspan font-size="4.2" dy="-2.6">1</tspan></text>
<text x="37.1" y="86.8" font-size="6" fill="#333">10<tspan font-size="4.2" dx="-1.6" dy="-2.6">2</tspan></text>
<text x="-13.2" y="42.1" font-size="6" fill="#333">10<tspan font-size="4.2" dy="-2.6">2</tspan></text>
<text x="58.8" y="86.8" font-size="6" fill="#333">10<tspan font-size="4.2" dx="-1.6" dy="-2.6">3</tspan></text>
<text x="-13.2" y="23.2" font-size="6" fill="#333">10<tspan font-size="4.2" dy="-2.6">3</tspan></text>
<text x="80.4" y="86.8" font-size="6" fill="#333">10<tspan font-size="4.2" dx="-1.6" dy="-2.6">4</tspan></text>
<text x="-13.2" y="4.2" font-size="6" fill="#333">10<tspan font-size="4.2" dy="-2.6">4</tspan></text>
<text x="0.9" y="7.8" font-size="9.3" fill="#111">81.81</text>
<text x="0.7" y="74.3" font-size="9.3" fill="#111">17.83</text>
<text x="87.3" y="74.3" font-size="9.3" text-anchor="end" fill="#111">0.04</text>
<text x="86.7" y="12" font-size="12.3" font-weight="bold" text-anchor="end">0.32%</text>
</g>
<text x="483.2" y="268.9" font-size="12">CD8<tspan font-size="6.5" dx="0.3" dy="-3.6">+</tspan></text>
<text x="486.6" y="283.5" font-size="11.8">CTL</text>
<text x="484.1" y="367.1" font-size="12">CD4<tspan font-size="6.5" dx="0.6" dy="-3.6">+</tspan></text>
<text x="487.2" y="381.8" font-size="11.8">CTL</text>
</svg>
</body></html>
